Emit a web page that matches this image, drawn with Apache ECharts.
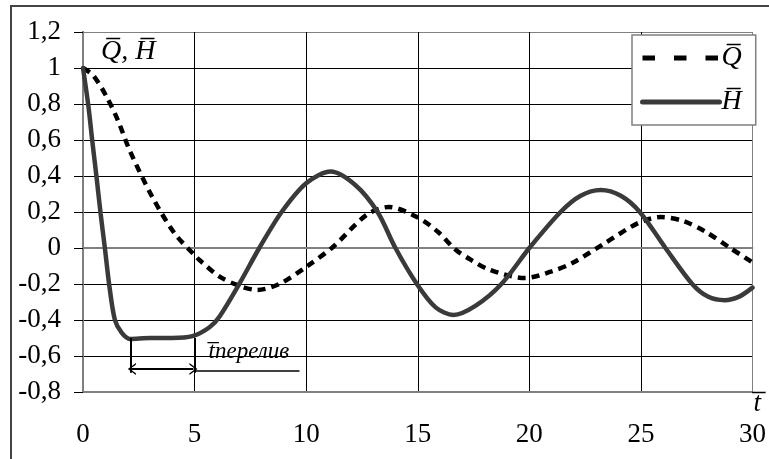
<!DOCTYPE html>
<html><head><meta charset="utf-8">
<script src="https://cdn.jsdelivr.net/npm/echarts@6/dist/echarts.min.js"></script>
<style>html,body{margin:0;padding:0;background:#fff}#c{width:769px;height:459px}</style>
</head><body><div id="c"></div>
<script>
// ---- data ----
const tQ = [0, 0.45, 1.06, 1.56, 2.1, 3.1, 4.1, 5.0, 5.22, 6.12, 7.0, 7.8, 8.8, 10, 11.2, 12.7, 13.7, 15.0, 15.9, 16.7, 17.4, 18.2, 19.8, 21.0, 21.9, 23.4, 24.9, 25.9, 26.9, 27.9, 29.0, 30];
const vQ = [1, 0.96, 0.84, 0.71, 0.54, 0.285, 0.082, -0.04, -0.067, -0.159, -0.21, -0.233, -0.2, -0.105, 0.006, 0.183, 0.228, 0.17, 0.09, -0.01, -0.067, -0.12, -0.167, -0.13, -0.085, 0.028, 0.14, 0.172, 0.15, 0.09, 0.0, -0.08];
const tH = [0, 0.24, 0.42, 0.61, 0.79, 0.98, 1.18, 1.43, 1.73, 2.1, 3.0, 4.0, 4.9, 5.67, 6.12, 7.0, 7.9, 8.9, 10.0, 11.1, 12.2, 13.2, 14.0, 14.96, 15.8, 16.6, 17.6, 18.75, 20.0, 21.4, 22.3, 23.2, 24.1, 24.95, 26.1, 27.3, 28.0, 28.75, 29.4, 30];
const vH = [1, 0.79, 0.59, 0.39, 0.19, 0.0, -0.21, -0.4, -0.47, -0.505, -0.5, -0.5, -0.49, -0.44, -0.38, -0.2, 0.0, 0.2, 0.36, 0.425, 0.35, 0.2, 0.0, -0.2, -0.33, -0.372, -0.32, -0.2, 0.0, 0.2, 0.29, 0.322, 0.29, 0.2, 0.0, -0.2, -0.27, -0.29, -0.27, -0.22];
const seriesNames = ['Q\u0305', 'H\u0305'];
const xTicks = [0, 5, 10, 15, 20, 25, 30];
const xTickLabels = ['0', '5', '10', '15', '20', '25', '30'];
const yTicks = [-0.8, -0.6, -0.4, -0.2, 0, 0.2, 0.4, 0.6, 0.8, 1, 1.2];
const yTickLabels = ['-0,8', '-0,6', '-0,4', '-0,2', '0', '0,2', '0,4', '0,6', '0,8', '1', '1,2'];
// annotation (overflow interval) in data units
const annBracketT = [2.14, 5.0];
const annBracketY = [-0.5, -0.693];
const annArrowY = -0.672;
const annUnderline = [5.0, 9.7, -0.68];
const annText = 't\u0305перелив';
const axisTitle = 'Q\u0305, H\u0305';
const xName = 't\u0305';

const FONT = 'Liberation Serif';
const lookup = (ticks, labels) => v => { const i = ticks.findIndex(t => Math.abs(t - v) < 1e-6); return i >= 0 ? labels[i] : ''; };
const pair = (ts, vs) => ts.map((t, i) => [t, vs[i]]);

const chart = echarts.init(document.getElementById('c'), null, {renderer: 'canvas'});
const blk = '#000', gry = '#808080';
const chevron = 'path://M0,10 L5,0 L10,10 L8.6,10 L5,2.6 L1.4,10 Z';

chart.setOption({
  animation: false,
  backgroundColor: '#fff',
  grid: {left: 83, top: 32, right: 14, bottom: 67, containLabel: false},
  legend: {
    orient: 'vertical', left: 632, top: 35,
    backgroundColor: '#fff', borderColor: gry, borderWidth: 1.5,
    padding: [9, 14, 9, 8], itemGap: 16, itemWidth: 77, itemHeight: 14,
    itemStyle: {color: 'rgba(0,0,0,0)', borderWidth: 0, opacity: 0},
    lineStyle: {width: 5},
    textStyle: {fontFamily: FONT, fontStyle: 'italic', fontSize: 28, color: '#000', padding: [0, 0, 0, -3]},
    data: [
      {name: seriesNames[0], lineStyle: {type: [12.5, 19], width: 5, color: '#000'}},
      {name: seriesNames[1], lineStyle: {width: 5}}
    ]
  },
  xAxis: [{
    type: 'value', min: 0, max: 30, interval: 5,
    axisLine: {show: true, onZero: false, lineStyle: {color: gry, width: 2}},
    axisTick: {show: false},
    axisLabel: {margin: 29, fontFamily: FONT, fontSize: 27, color: '#000', formatter: lookup(xTicks, xTickLabels)},
    splitLine: {show: true, lineStyle: {color: [gry, blk, blk, blk, blk, blk, gry], width: 1}}
  }, {
    type: 'value', min: 0, max: 30, interval: 5, position: 'top',
    axisLine: {show: true, lineStyle: {color: gry, width: 2}},
    axisTick: {show: false}, axisLabel: {show: false}, splitLine: {show: false}
  }],
  yAxis: [{
    type: 'value', min: -0.8, max: 1.2, interval: 0.2,
    axisLine: {show: true, onZero: false, lineStyle: {color: gry, width: 2}},
    axisTick: {show: true, length: 9, lineStyle: {color: '#000', width: 1}},
    axisLabel: {margin: 22, fontFamily: FONT, fontSize: 27, color: '#000', formatter: lookup(yTicks, yTickLabels)},
    splitLine: {show: true, lineStyle: {color: [gry, blk, blk, blk, blk, blk, blk, blk, blk, blk, gry], width: 1}}
  }, {
    type: 'value', min: -0.8, max: 1.2, interval: 0.2, position: 'right',
    axisLine: {show: true, lineStyle: {color: gry, width: 2}},
    axisTick: {show: false}, axisLabel: {show: false}, splitLine: {show: false}
  }],
  series: [{
    name: seriesNames[0], type: 'line', data: pair(tQ, vQ),
    smooth: 0.3, showSymbol: false, symbol: 'none', z: 3,
    lineStyle: {color: '#000', width: 4.5, type: [8, 6]}, itemStyle: {color: '#000'}
  }, {
    name: seriesNames[1], type: 'line', data: pair(tH, vH),
    smooth: 0.3, showSymbol: false, symbol: 'none', z: 4,
    lineStyle: {color: '#3a3a3a', width: 4.5, cap: 'round'}, itemStyle: {color: '#3a3a3a'},
    markLine: {
      silent: true, animation: false, symbol: 'none', label: {show: false},
      lineStyle: {color: '#000', width: 2, type: 'solid'},
      data: [
        [{coord: [annBracketT[0], annBracketY[0]]}, {coord: [annBracketT[0], annBracketY[1]]}],
        [{coord: [annBracketT[1], annBracketY[0]]}, {coord: [annBracketT[1], annBracketY[1]]}],
        [{coord: [annBracketT[0] + 0.05, annArrowY], symbol: chevron, symbolSize: [12, 8]},
         {coord: [annBracketT[1] - 0.05, annArrowY], symbol: chevron, symbolSize: [12, 8]}],
        [{coord: [annUnderline[0], annUnderline[2]], lineStyle: {width: 1.5}}, {coord: [annUnderline[1], annUnderline[2]]}]
      ]
    }
  }]
});

const p = chart.convertToPixel({gridIndex: 0}, [annUnderline[0], annUnderline[2]]);
const pEnd = chart.convertToPixel({gridIndex: 0}, [30, -0.8]);
const pTop = chart.convertToPixel({gridIndex: 0}, [0, 1.2]);
chart.setOption({
  graphic: [
    {type: 'rect', shape: {x: 11, y: 6, width: 800, height: 500}, style: {fill: 'none', stroke: '#444', lineWidth: 2}, silent: true},
    {type: 'text', x: pTop[0] + 18, y: pTop[1] + 6, style: {text: axisTitle, font: 'italic 28px ' + FONT, fill: '#000'}, z: 10},
    {type: 'text', x: p[0] + 14, y: p[1] - 30, style: {text: annText, font: 'italic 23px ' + FONT, fill: '#000'}, z: 10},
    {type: 'text', x: pEnd[0] + 1, y: pEnd[1] - 2, style: {text: xName, font: 'italic 27px ' + FONT, fill: '#000'}, z: 10}
  ]
});
</script></body></html>
